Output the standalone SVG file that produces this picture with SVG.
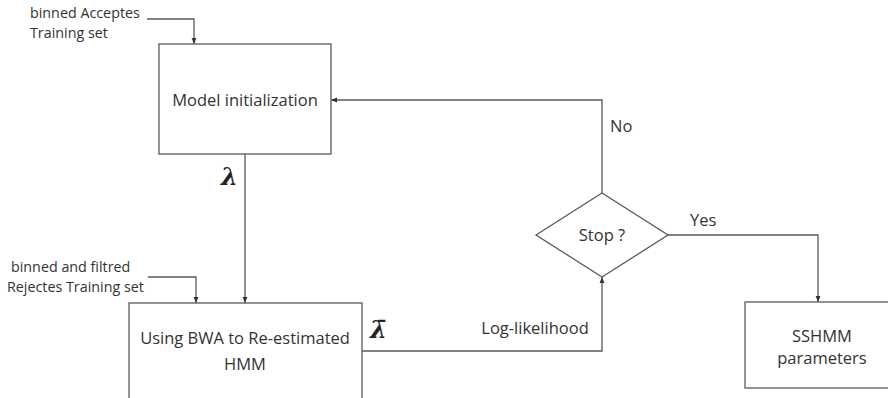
<svg xmlns="http://www.w3.org/2000/svg" width="888" height="398" viewBox="0 0 888 398">
<defs>
<marker id="ah" viewBox="0 0 10 10" refX="10" refY="5" markerWidth="6" markerHeight="6" orient="auto" markerUnits="userSpaceOnUse">
<path d="M0,1 L10,5 L0,9 Z" fill="#333"/>
</marker>
<style>
.box{fill:#fff;stroke:#595959;stroke-width:1.3}
.ln{fill:none;stroke:#595959;stroke-width:1.3}
.t{font-family:"Open Sans","Liberation Sans",sans-serif;font-size:16.5px;fill:#333}
.s{font-family:"Open Sans","Liberation Sans",sans-serif;font-size:14.3px;fill:#333}
.lam{font-family:"DejaVu Serif",serif;font-weight:bold;font-style:italic;font-size:24px;fill:#222}
</style>
</defs>
<rect width="888" height="398" fill="#fff"/>
<g id="connectors">
<path class="ln" d="M147,19 H194 V44" marker-end="url(#ah)"/>
<path class="ln" d="M148,277 H196 V303" marker-end="url(#ah)"/>
<path class="ln" d="M245,154 V303" marker-end="url(#ah)"/>
<path class="ln" d="M362,351 H602 V277" marker-end="url(#ah)"/>
<path class="ln" d="M602,193 V100 H331" marker-end="url(#ah)"/>
<path class="ln" d="M668,235 H818 V302" marker-end="url(#ah)"/>
<text class="t" x="610" y="132">No</text>
<text class="t" x="690" y="226">Yes</text>
<text class="t" x="535" y="334" text-anchor="middle">Log-likelihood</text>
<text class="lam" x="221" y="185">λ</text>
<text class="lam" x="370" y="338">λ̄</text>
</g>
<g id="input-accepted">
<text class="s" x="30" y="18">binned Acceptes</text>
<text class="s" x="30" y="38">Training set</text>
</g>
<g id="input-rejected">
<text class="s" x="11" y="272">binned and filtred</text>
<text class="s" x="7" y="292">Rejectes Training set</text>
</g>
<g id="model-init">
<rect class="box" x="159" y="44" width="172" height="110"/>
<text class="t" x="245" y="106" text-anchor="middle">Model initialization</text>
</g>
<g id="bwa">
<rect class="box" x="129" y="303" width="233" height="110"/>
<text class="t" x="245" y="344" text-anchor="middle">Using BWA to Re-estimated</text>
<text class="t" x="245" y="370" text-anchor="middle">HMM</text>
</g>
<g id="stop">
<polygon class="box" points="536,235 602,193 668,235 602,277"/>
<text class="t" x="602" y="241" text-anchor="middle">Stop ?</text>
</g>
<g id="sshmm">
<rect class="box" x="745" y="302" width="150" height="86"/>
<text class="t" x="822" y="342" text-anchor="middle">SSHMM</text>
<text class="t" x="822" y="364" text-anchor="middle">parameters</text>
</g>
</svg>
